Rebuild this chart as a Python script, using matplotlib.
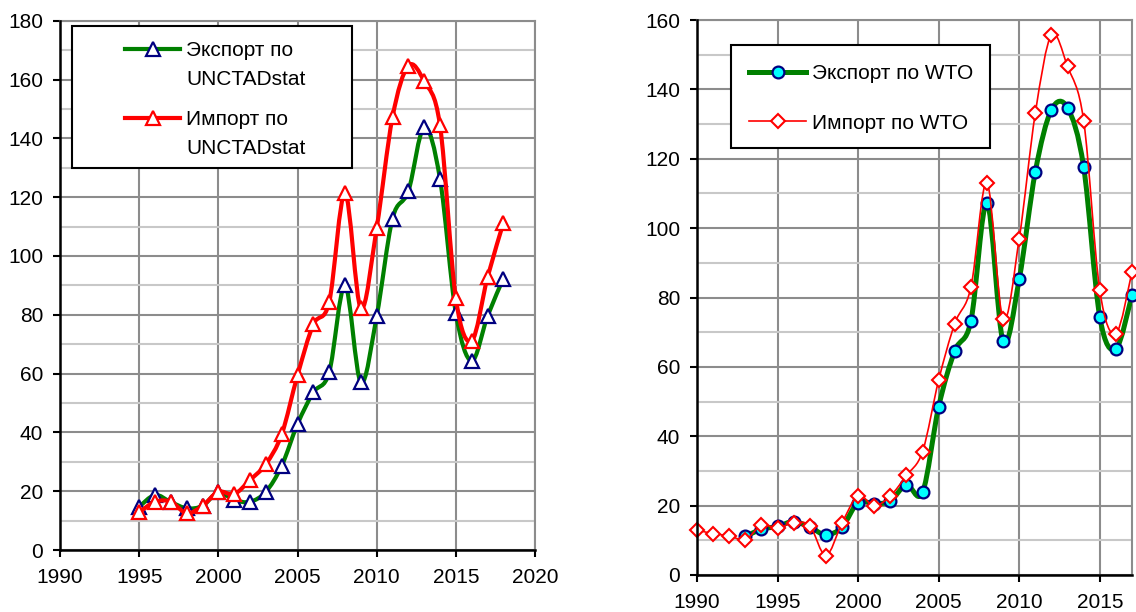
import numpy as np
import matplotlib as mpl
mpl.use('Agg')
import matplotlib.pyplot as plt
from matplotlib.path import Path
from matplotlib.patches import PathPatch, Rectangle
from matplotlib.lines import Line2D

green = '#008000'
red = '#ff0000'
navy = '#000080'
cyan = '#00ffff'
grid_major = '#8c8c8c'
grid_minor = '#c8c8c8'

# UNCTADstat (left)
years_unctad = list(range(1995, 2019))
export_unctad = [14.7, 18.7, 16.3, 14.2, 15.0, 19.6, 17.0, 16.4, 19.8, 28.6, 42.8, 53.6,
                 60.4, 90.0, 57.0, 79.5, 112.7, 122.0, 143.8, 126.2, 80.6, 64.3, 79.5, 92.3]
import_unctad = [12.8, 16.4, 16.4, 12.5, 15.0, 19.8, 19.0, 23.8, 29.2, 39.3, 59.4, 76.7,
                 84.3, 121.4, 82.2, 109.5, 147.2, 164.7, 159.4, 144.4, 85.6, 71.1, 92.7, 111.2]

# WTO (right)
years_wto_exp = list(range(1993, 2018))
export_wto = [11.1, 13.2, 14.0, 15.4, 13.8, 11.6, 13.8, 20.9, 20.5, 21.4, 26.0, 23.8, 48.5,
              64.6, 73.2, 107.2, 67.4, 85.3, 116.3, 134.1, 134.7, 117.6, 74.4, 65.2, 80.7]
years_wto_imp = list(range(1990, 2018))
import_wto = [13.0, 11.9, 11.3, 10.2, 14.3, 13.6, 15.0, 14.2, 5.6, 15.0, 22.9, 19.9, 22.8, 28.7,
              35.6, 56.2, 72.5, 82.9, 113.1, 73.8, 97.0, 133.2, 155.7, 146.6, 131.0, 82.1, 69.6, 87.4]

plt.rcParams['font.family'] = ['Liberation Sans', 'DejaVu Sans']
plt.rcParams['font.size'] = 15

W, H = 1136, 612
TICK_FS = 15
LEG_FS = 15


def smooth_path(x, y):
    # Excel-like smoothed line (Bezier through the points)
    n = len(x)
    verts = [(x[0], y[0])]
    codes = [Path.MOVETO]
    for i in range(n - 1):
        xp, yp = (x[i - 1], y[i - 1]) if i > 0 else (x[i], y[i])
        xn, yn = (x[i + 2], y[i + 2]) if i + 2 < n else (x[i + 1], y[i + 1])
        c1 = (x[i] + (x[i + 1] - xp) / 6.0, y[i] + (y[i + 1] - yp) / 6.0)
        c2 = (x[i + 1] - (xn - x[i]) / 6.0, y[i + 1] - (yn - y[i]) / 6.0)
        verts += [c1, c2, (x[i + 1], y[i + 1])]
        codes += [Path.CURVE4] * 3
    return Path(verts, codes)


def draw_series(ax, x, y, color, lw, marker, ms, mfc, mec, mew, z):
    ax.add_patch(PathPatch(smooth_path(x, y), fill=False, edgecolor=color, lw=lw,
                           capstyle='round', joinstyle='round', zorder=z))
    ax.plot(x, y, linestyle='none', marker=marker, ms=ms, mfc=mfc, mec=mec, mew=mew,
            zorder=z + 0.5, clip_on=False)


def style_axes(ax, ymax, xmax, xticks):
    ax.set_xlim(1990, xmax)
    ax.set_ylim(0, ymax)
    ax.set_xticks(xticks)
    ax.set_yticks(np.arange(0, ymax + 1, 20))
    ax.set_yticks(np.arange(10, ymax, 20), minor=True)
    ax.grid(which='major', color=grid_major, lw=1.5, zorder=0)
    ax.grid(which='minor', axis='y', color=grid_minor, lw=1.5, zorder=0)
    ax.set_axisbelow(True)
    for s in ['left', 'bottom']:
        ax.spines[s].set_color('black')
        ax.spines[s].set_linewidth(1.8)
        ax.spines[s].set_zorder(5)
    for s in ['top', 'right']:
        ax.spines[s].set_color(grid_major)
        ax.spines[s].set_linewidth(1.5)
    ax.tick_params(which='major', direction='out', length=5, width=1.5, labelsize=TICK_FS,
                   color='black')
    ax.tick_params(axis='y', pad=7)
    ax.tick_params(axis='x', pad=8)
    ax.tick_params(which='minor', length=0)


def fig_rect(x0, y0, x1, y1):
    return Rectangle((x0 / W, 1 - y1 / H), (x1 - x0) / W, (y1 - y0) / H, transform=fig.transFigure,
                     fill=True, facecolor='white', edgecolor='black', lw=1.5, zorder=10)


fig = plt.figure(figsize=(W / 100, H / 100), dpi=100)

# ---- left chart
ax1 = fig.add_axes([60 / W, 1 - 550 / H, 475 / W, 529.3 / H])
style_axes(ax1, 180, 2020, range(1990, 2021, 5))
draw_series(ax1, years_unctad, export_unctad, green, 3.0, '^', 10, 'white', navy, 1.6, 3)
draw_series(ax1, years_unctad, import_unctad, red, 3.0, '^', 10, 'white', red, 1.6, 4)

fig.add_artist(fig_rect(72, 26, 352, 168))
blank = Line2D([], [], linestyle='none')
h_exp1 = Line2D([], [], color=green, lw=3.0, marker='^', ms=10, mfc='white', mec=navy, mew=1.6)
h_imp1 = Line2D([], [], color=red, lw=3.0, marker='^', ms=10, mfc='white', mec=red, mew=1.6)
for h, lab, ytop in [(h_exp1, 'Экспорт по', 41), (h_imp1, 'Импорт по', 110)]:
    leg = fig.legend([h, blank], [lab, 'UNCTADstat'], loc='upper left',
                     bbox_to_anchor=(125 / W, 1 - ytop / H), frameon=False, borderpad=0,
                     borderaxespad=0, handlelength=2.65, handletextpad=0.28, labelspacing=0.5,
                     fontsize=LEG_FS)
    leg.set_zorder(11)

# ---- right chart
ax2 = fig.add_axes([697 / W, 1 - 575 / H, 435 / W, 555 / H])
style_axes(ax2, 160, 2017, range(1990, 2016, 5))
draw_series(ax2, years_wto_exp, export_wto, green, 3.6, 'o', 8.5, cyan, navy, 1.6, 3)
draw_series(ax2, years_wto_imp, import_wto, red, 1.2, 'D', 7.5, 'white', red, 1.5, 4)

fig.add_artist(fig_rect(731, 45, 990, 148))
h_exp2 = Line2D([], [], color=green, lw=3.6, marker='o', ms=8.5, mfc=cyan, mec=navy, mew=1.6)
h_imp2 = Line2D([], [], color=red, lw=1.2, marker='D', ms=7.5, mfc='white', mec=red, mew=1.5)
leg2 = fig.legend([h_exp2, h_imp2], ['Экспорт по WTO', 'Импорт по WTO'], loc='upper left',
                  bbox_to_anchor=(749 / W, 1 - 64 / H), frameon=False, borderpad=0,
                  borderaxespad=0, handlelength=2.75, handletextpad=0.25, labelspacing=1.47,
                  fontsize=LEG_FS)
leg2.set_zorder(11)

fig.savefig('out.png', dpi=100)
